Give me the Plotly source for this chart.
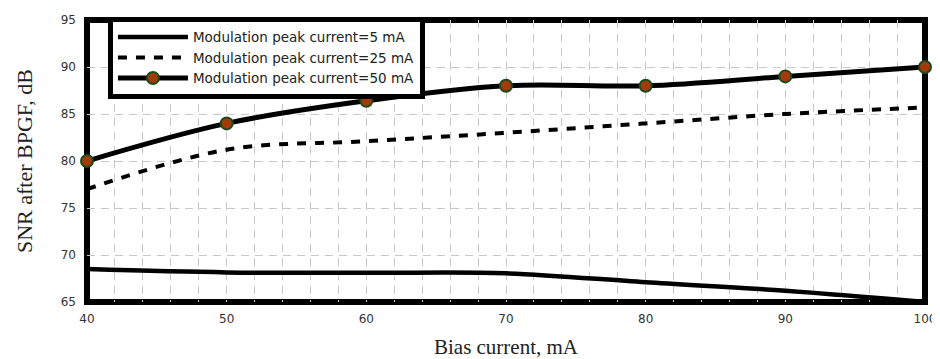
import plotly.graph_objects as go

bias = [40, 50, 60, 70, 80, 90, 100]
snr_5 = [68.5, 68.15, 68.1, 68.05, 67.1, 66.2, 65.0]
snr_25 = [77.0, 81.2, 82.1, 83.0, 84.0, 85.0, 85.7]
snr_50 = [80.0, 84.0, 86.4, 88.0, 88.0, 89.0, 90.0]
names = ["Modulation peak current=5 mA", "Modulation peak current=25 mA", "Modulation peak current=50 mA"]

fig = go.Figure()
fig.add_trace(go.Scatter(x=bias, y=snr_5, name=names[0], mode="lines", legendgroup="a",
                         line=dict(color="black", width=4.5, shape="spline")))
fig.add_trace(go.Scatter(x=bias, y=snr_25, name=names[1], mode="lines", legendgroup="b",
                         line=dict(color="black", width=4, shape="spline", dash="9px,9px")))
fig.add_trace(go.Scatter(x=bias, y=snr_50, name=names[2], mode="lines+markers", legendgroup="c",
                         line=dict(color="black", width=5, shape="spline"),
                         marker=dict(size=12, color="#a33a0a", line=dict(color="#1c4a1c", width=2)),
                         cliponaxis=False))

gridc = "#c8c8c8"
title_font = dict(family="Liberation Serif, Times New Roman, serif", size=21, color="#222")
# page body has an 8px margin: figure is sized/offset to compensate
fig.update_layout(
    width=932, height=351,
    margin=dict(l=79, r=15, t=9, b=57),
    paper_bgcolor="white", plot_bgcolor="white",
    font=dict(family="DejaVu Sans, sans-serif", size=12, color="#333"),
    xaxis=dict(range=[40, 100], dtick=10, tick0=40, automargin=False,
               showgrid=True, gridcolor=gridc, gridwidth=1, griddash="8px,6px",
               minor=dict(dtick=2, showgrid=True, gridcolor=gridc, griddash="8px,6px"),
               showline=False, zeroline=False, ticks="", ticklabelstandoff=8,
               title=dict(text="Bias current, mA", font=title_font, standoff=16)),
    yaxis=dict(range=[65, 95], dtick=5, automargin=False,
               showgrid=True, gridcolor=gridc, gridwidth=1, griddash="8px,6px",
               showline=False, zeroline=False, ticks="", ticklabelstandoff=10,
               title=dict(text="SNR after BPGF, dB", font=dict(title_font, size=22), standoff=22)),
    legend=dict(x=0.025, y=1.012, xanchor="left", yanchor="top",
                bgcolor="white", bordercolor="black", borderwidth=5,
                font=dict(family="DejaVu Sans, sans-serif", size=13.5, color="#222"),
                itemwidth=70, tracegroupgap=0),
    shapes=[dict(type="rect", xref="paper", yref="paper", x0=0, y0=0, x1=1, y1=1,
                 line=dict(color="black", width=6), layer="between")],
    showlegend=True,
)
fig.write_html("out.html")
